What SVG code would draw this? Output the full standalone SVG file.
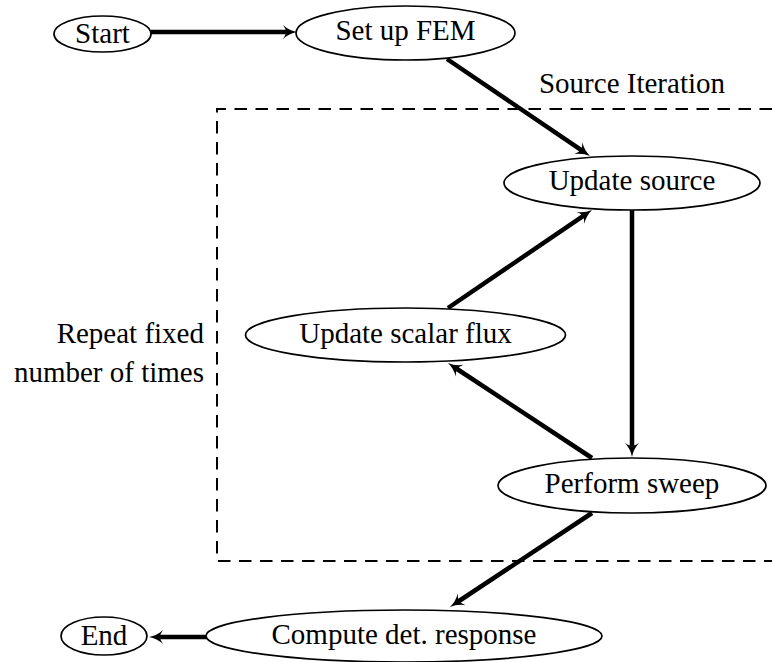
<svg xmlns="http://www.w3.org/2000/svg" width="772" height="662" viewBox="0 0 772 662">
  <style>
    .node ellipse { fill: #ffffff; stroke: #000000; stroke-width: 1.7; }
    text { font-family: "Liberation Serif", "Times New Roman", "DejaVu Serif", serif; font-size: 29px; fill: #000000; }
    .lbl { text-anchor: middle; }
    .edge { stroke: #000000; stroke-width: 4.5; fill: none; marker-end: url(#arrow); }
    .frame { fill: none; stroke: #000000; stroke-width: 2; stroke-dasharray: 12.5 8.5; }
  </style>
  <defs>
    <marker id="arrow" markerUnits="userSpaceOnUse" markerWidth="16" markerHeight="16" viewBox="0 -8 16 16" refX="4" refY="0" orient="auto" overflow="visible">
      <path d="M14,0 Q6,-1.5 0,-7 Q3,-3 3,0 Q3,3 0,7 Q6,1.5 14,0 Z" fill="#000000"/>
    </marker>
  </defs>
  <rect width="772" height="662" fill="#ffffff"/>

  <g id="iteration-frame">
    <path class="frame" d="M772,109 H217 V561 H772"/>
    <text class="lbl" x="632" y="93">Source Iteration</text>
    <text x="204" y="343" text-anchor="end">Repeat fixed</text>
    <text x="204" y="382" text-anchor="end">number of times</text>
  </g>

  <g id="connectors">
    <line class="edge" x1="151" y1="32" x2="287" y2="32"/>
    <line class="edge" x1="447" y1="59" x2="581.7" y2="150.4"/>
    <line class="edge" x1="632" y1="210" x2="632" y2="447"/>
    <line class="edge" x1="592" y1="458" x2="456.3" y2="368.5"/>
    <line class="edge" x1="448" y1="308" x2="583.7" y2="215.6"/>
    <line class="edge" x1="592" y1="513" x2="458.3" y2="601.5"/>
    <line class="edge" x1="206" y1="637" x2="159" y2="637"/>
  </g>

  <g id="start" class="node">
    <ellipse cx="102.5" cy="34" rx="48.5" ry="18"/>
    <text class="lbl" x="102.5" y="43">Start</text>
  </g>
  <g id="setup-fem" class="node">
    <ellipse cx="405.5" cy="33" rx="109.5" ry="27"/>
    <text class="lbl" x="405.5" y="40">Set up FEM</text>
  </g>
  <g id="update-source" class="node">
    <ellipse cx="632" cy="183" rx="128" ry="27"/>
    <text class="lbl" x="632" y="190">Update source</text>
  </g>
  <g id="update-scalar-flux" class="node">
    <ellipse cx="405.5" cy="335" rx="160" ry="27"/>
    <text class="lbl" x="405.5" y="343">Update scalar flux</text>
  </g>
  <g id="perform-sweep" class="node">
    <ellipse cx="632" cy="485.5" rx="134" ry="27.5"/>
    <text class="lbl" x="632" y="493">Perform sweep</text>
  </g>
  <g id="compute-response" class="node">
    <ellipse cx="404" cy="636" rx="198" ry="26"/>
    <text class="lbl" x="404" y="644">Compute det. response</text>
  </g>
  <g id="end" class="node">
    <ellipse cx="104" cy="636" rx="43" ry="19"/>
    <text class="lbl" x="104" y="645">End</text>
  </g>
</svg>
